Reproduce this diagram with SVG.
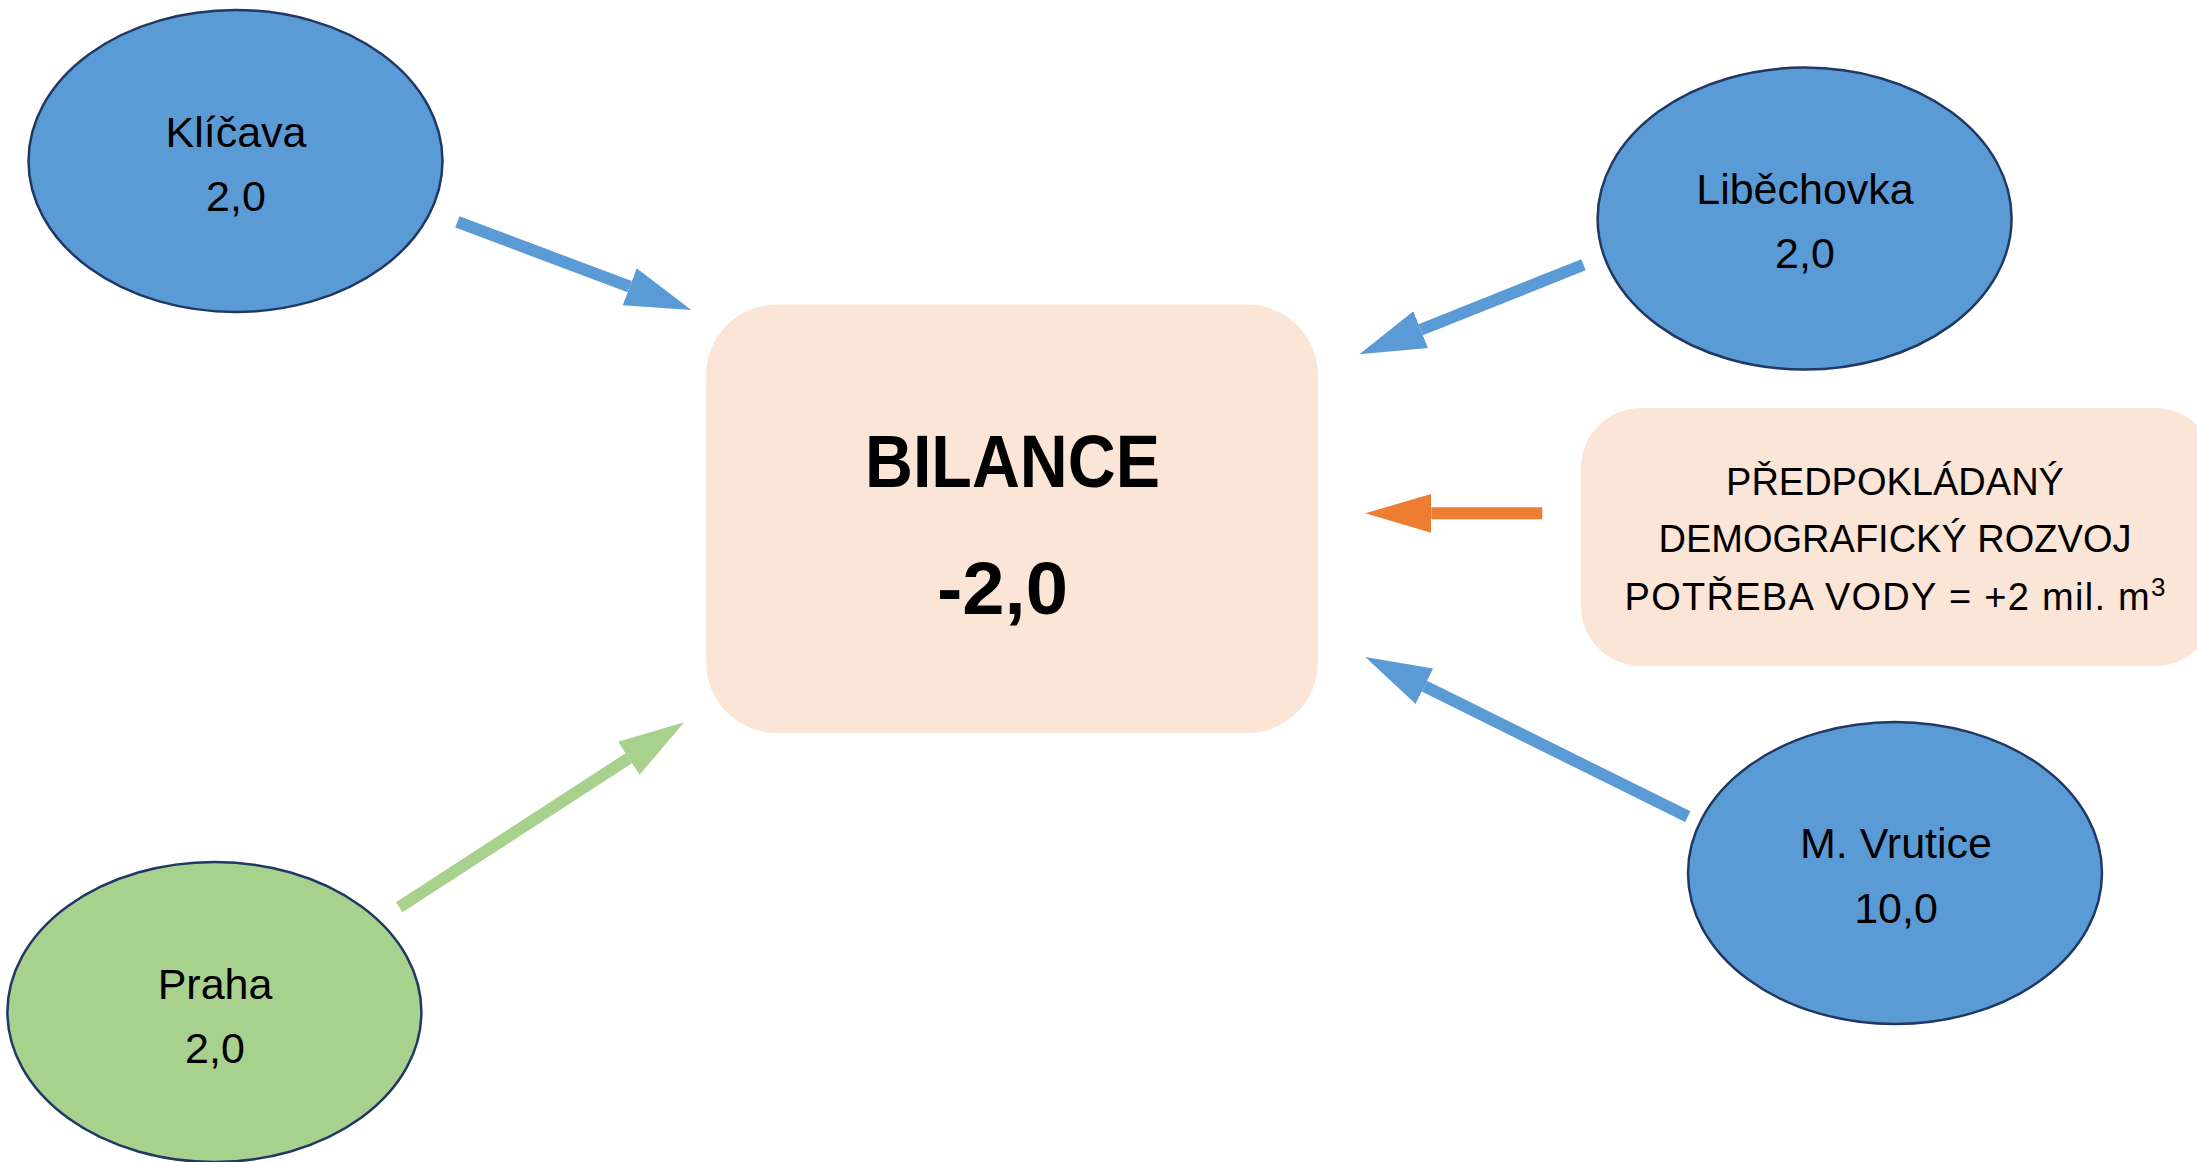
<svg xmlns="http://www.w3.org/2000/svg" width="2197" height="1162" viewBox="0 0 2197 1162">
<style>
  .blue { fill: #5B9BD5; stroke: #203864; stroke-width: 2.5; }
  .green { fill: #A9D18E; stroke: #203864; stroke-width: 2.5; }
  .box { fill: #FBE5D6; }
  .lbl { font-family: "Liberation Sans", Arial, sans-serif; font-size: 43px; fill: #000; text-anchor: middle; }
  .big { font-family: "Liberation Sans", Arial, sans-serif; font-size: 74px; font-weight: bold; fill: #000; text-anchor: middle; }
  .note { font-family: "Liberation Sans", Arial, sans-serif; font-size: 38px; fill: #000; text-anchor: middle; }
  .sup { font-size: 26px; }
  .conn { fill: none; stroke-width: 12; stroke-linecap: butt; }
</style>
<defs>
  <marker id="headBlue" markerUnits="userSpaceOnUse" viewBox="0 -20 66 40" markerWidth="66" markerHeight="40" refX="0" refY="0" orient="auto">
    <path d="M0,-19.75 L66,0 L0,19.75 z" fill="#5B9BD5"/>
  </marker>
  <marker id="headGreen" markerUnits="userSpaceOnUse" viewBox="0 -20 66 40" markerWidth="66" markerHeight="40" refX="0" refY="0" orient="auto">
    <path d="M0,-19.75 L66,0 L0,19.75 z" fill="#A9D18E"/>
  </marker>
  <marker id="headOrange" markerUnits="userSpaceOnUse" viewBox="0 -20 66 40" markerWidth="66" markerHeight="40" refX="0" refY="0" orient="auto">
    <path d="M0,-19.5 L66,0 L0,19.5 z" fill="#ED7D31"/>
  </marker>
</defs>
<rect width="2197" height="1162" fill="#FFFFFF"/>

<g id="connectors">
  <line class="conn" x1="457.4" y1="221.9" x2="629.7" y2="286.7" stroke="#5B9BD5" marker-end="url(#headBlue)"/>
  <line class="conn" x1="1583.5" y1="264.8" x2="1420.7" y2="329.7" stroke="#5B9BD5" marker-end="url(#headBlue)"/>
  <line class="conn" x1="1542.3" y1="513.3" x2="1431.3" y2="513.3" stroke="#ED7D31" marker-end="url(#headOrange)"/>
  <line class="conn" x1="1687.8" y1="816.7" x2="1424.4" y2="686.2" stroke="#5B9BD5" marker-end="url(#headBlue)"/>
  <line class="conn" x1="399.2" y1="907.3" x2="628.8" y2="758.3" stroke="#A9D18E" marker-end="url(#headGreen)"/>
</g>

<g id="klicava">
  <ellipse class="blue" cx="235.5" cy="161" rx="207" ry="151"/>
  <text class="lbl" x="236" y="146.7">Klíčava</text>
  <text class="lbl" x="236" y="210.7">2,0</text>
</g>

<g id="libechovka">
  <ellipse class="blue" cx="1804.6" cy="218.6" rx="207" ry="151"/>
  <text class="lbl" x="1805" y="204.3">Liběchovka</text>
  <text class="lbl" x="1805" y="268.3">2,0</text>
</g>

<g id="praha">
  <ellipse class="green" cx="214.4" cy="1012" rx="207" ry="150"/>
  <text class="lbl" x="215" y="999">Praha</text>
  <text class="lbl" x="215" y="1063">2,0</text>
</g>

<g id="vrutice">
  <ellipse class="blue" cx="1895" cy="873" rx="207" ry="151"/>
  <text class="lbl" x="1896" y="858.3">M. Vrutice</text>
  <text class="lbl" x="1896" y="923.3">10,0</text>
</g>

<g id="bilance">
  <rect class="box" x="706" y="304.5" width="612" height="428.5" rx="71" ry="71"/>
  <text class="big" x="1012.5" y="486.7" textLength="295" lengthAdjust="spacingAndGlyphs">BILANCE</text>
  <text class="big" x="1002.5" y="614" textLength="131" lengthAdjust="spacingAndGlyphs">-2,0</text>
</g>

<g id="demografie">
  <rect class="box" x="1581" y="408" width="634" height="258" rx="60" ry="60"/>
  <text class="note" x="1895" y="495">PŘEDPOKLÁDANÝ</text>
  <text class="note" x="1895" y="551.7">DEMOGRAFICKÝ ROZVOJ</text>
  <text class="note" x="1895" y="610" textLength="541" lengthAdjust="spacing">POTŘEBA VODY = +2 mil. m<tspan class="sup" dy="-14">3</tspan></text>
</g>
</svg>
